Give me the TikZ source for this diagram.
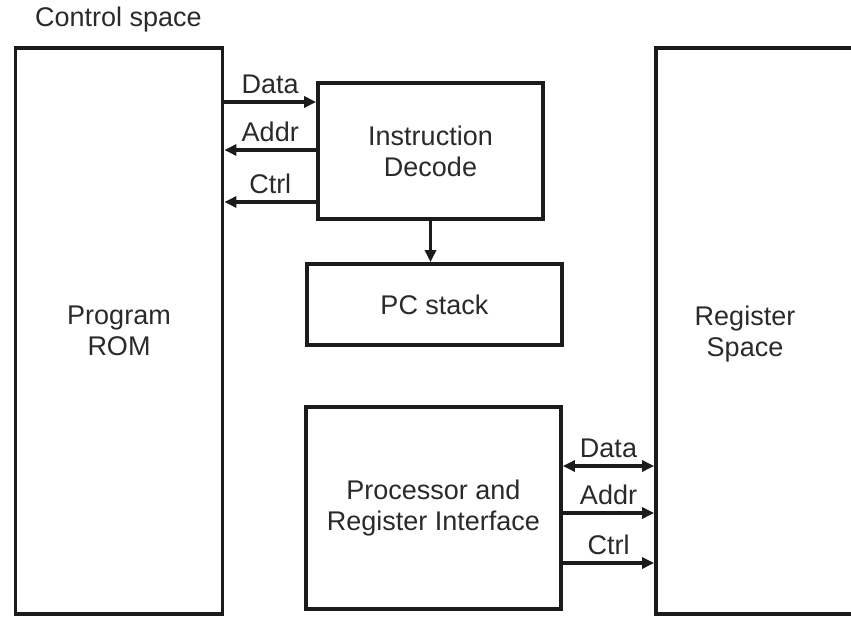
\documentclass[tikz,border=0pt]{standalone}
\usepackage{fontspec}
\setmainfont{Liberation Sans}
\usetikzlibrary{arrows.meta}
\definecolor{ink}{HTML}{1C1A1A}
\definecolor{txt}{HTML}{2A2A2A}
\begin{document}
\begin{tikzpicture}[x=1pt,y=-1pt,
  every node/.style={font=\fontsize{27}{31}\selectfont, text=txt},
  blk/.style={draw=ink, line width=3.8pt, rectangle, inner sep=0pt, align=center},
  tip/.style={Triangle[length=12pt,width=11pt]},
  bus/.style={draw=ink, line width=3.4pt, -{Triangle[length=12pt,width=11pt]}},
  bibus/.style={draw=ink, line width=3.4pt, {Triangle[length=12pt,width=11pt]}-{Triangle[length=12pt,width=11pt]}},
  lbl/.style={above, inner sep=0pt, yshift=6.5pt}]
\useasboundingbox (0,0) rectangle (851,617);
\clip (0,0) rectangle (851,617);

% title
\node[anchor=base west, inner sep=0pt] (title) at (35,27) {Control space};

% main blocks
\node[blk, minimum width=207pt, minimum height=566pt] (rom) at (119,331) {Program\\ROM};
\node[blk, minimum width=225pt, minimum height=136pt] (dec) at (430.5,151) {Instruction\\Decode};
\node[blk, minimum width=255pt, minimum height=81pt] (pc) at (434.5,304.5) {PC stack};
\node[blk, minimum width=255pt, minimum height=202pt] (proc) at (433.5,508) {Processor and\\Register Interface};
\node[blk, minimum width=214pt, minimum height=566pt] (reg) at (763,331) {};
\node[align=center, inner sep=0pt] (regtxt) at (745,334) {Register\\Space};

% bus rows
\coordinate (r1) at (0,102);
\coordinate (r2) at (0,150);
\coordinate (r3) at (0,202);
\coordinate (s1) at (0,466);
\coordinate (s2) at (0,513);
\coordinate (s3) at (0,563);

% program memory <-> instruction decode
\draw[bus] (rom.east |- r1) -- (dec.west |- r1) node[lbl, midway] (ldata) {Data};
\draw[bus] (dec.west |- r2) -- (rom.east |- r2) node[lbl, midway] (laddr) {Addr};
\draw[bus] (dec.west |- r3) -- (rom.east |- r3) node[lbl, midway] (lctrl) {Ctrl};

% decode -> PC stack
\draw[bus] (dec.south) -- (dec.south |- pc.north);

% processor interface <-> register space
\draw[bibus] (proc.east |- s1) -- (reg.west |- s1) node[lbl, midway] (rdata) {Data};
\draw[bus] (proc.east |- s2) -- (reg.west |- s2) node[lbl, midway] (raddr) {Addr};
\draw[bus] (proc.east |- s3) -- (reg.west |- s3) node[lbl, midway] (rctrl) {Ctrl};
\end{tikzpicture}
\end{document}
